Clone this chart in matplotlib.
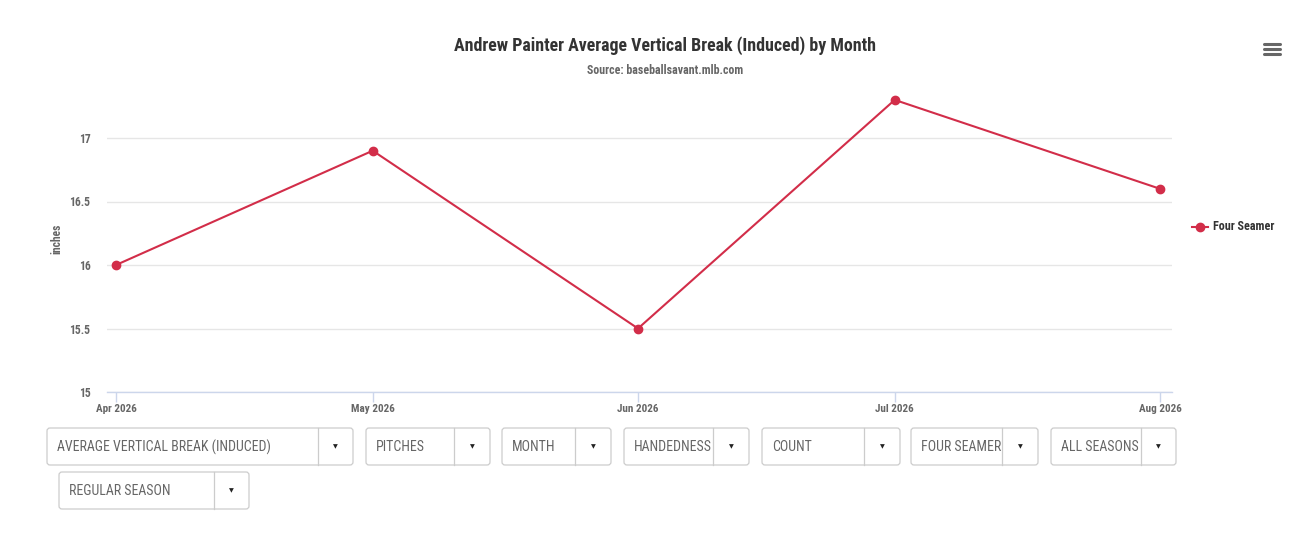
import matplotlib
matplotlib.use("Agg")
import matplotlib.pyplot as plt
from matplotlib.patches import FancyBboxPatch
from matplotlib.transforms import Bbox, TransformedBbox
import datetime as dt

months = ["2026-04-01", "2026-05-01", "2026-06-01", "2026-07-01", "2026-08-01"]
month_labels = ["Apr 2026", "May 2026", "Jun 2026", "Jul 2026", "Aug 2026"]
four_seamer = [16.0, 16.9, 15.5, 17.3, 16.6]
y_ticks = [15, 15.5, 16, 16.5, 17]
y_tick_labels = ["15", "15.5", "16", "16.5", "17"]
title = "Andrew Painter Average Vertical Break (Induced) by Month"
subtitle = "Source: baseballsavant.mlb.com"
series_name = "Four Seamer"
y_label = "inches"
dropdowns_row1 = ["AVERAGE VERTICAL BREAK (INDUCED)", "PITCHES", "MONTH", "HANDEDNESS",
                  "COUNT", "FOUR SEAMER", "ALL SEASONS"]
dropdowns_row2 = ["REGULAR SEASON"]

plt.rcParams["font.family"] = ["Roboto Condensed", "DejaVu Sans"]

W, H = 1315, 538
fig = plt.figure(figsize=(W / 100, H / 100), dpi=100)
fig.patch.set_facecolor("white")

dates = [dt.datetime.strptime(m, "%Y-%m-%d") for m in months]

# plot area in pixels
L, R, T, B = 107, 1172, 85, 392
ax = fig.add_axes([L / W, 1 - B / H, (R - L) / W, (B - T) / H])
color = "#d22d49"
ax.plot(dates, four_seamer, color=color, lw=1.5, marker="o", ms=6, zorder=3, clip_on=False)
ax.set_xlim(dates[0] - dt.timedelta(days=1.05), dates[-1] + dt.timedelta(days=1.4))
ax.set_ylim(15, 15 + (B - T) / 127.0)
ax.set_yticks(y_ticks)
ax.set_yticklabels(y_tick_labels)
ax.set_xticks(dates)
ax.set_xticklabels(month_labels)
for s in ["top", "right", "left"]:
    ax.spines[s].set_visible(False)
ax.spines["bottom"].set_color("#ccd6eb")
ax.spines["bottom"].set_linewidth(1)
ax.grid(axis="y", color="#e6e6e6", lw=1)
ax.set_axisbelow(True)
ax.tick_params(axis="y", length=0, pad=12, labelsize=8.4, labelcolor="#666666")
ax.tick_params(axis="x", length=7, width=1, color="#ccd6eb", pad=2, labelsize=8, labelcolor="#666666")
for lab in ax.get_xticklabels() + ax.get_yticklabels():
    lab.set_fontweight("bold")

# overlay in pixel coordinates
ov = fig.add_axes([0, 0, 1, 1], zorder=5)
ov.set_xlim(0, W)
ov.set_ylim(H, 0)
ov.axis("off")
ov.patch.set_alpha(0)

ov.text(665, 46, title, ha="center", va="center", fontsize=12.9, fontweight="bold", color="#333333")
ov.text(665, 70, subtitle, ha="center", va="center", fontsize=8.6, fontweight="bold", color="#666666")
ov.text(57, 239, y_label, ha="center", va="center", rotation=90, fontsize=8.3,
        fontweight="bold", color="#666666")

# legend
ov.plot([1192, 1208], [227, 227], color=color, lw=1.5)
ov.plot([1200], [227], marker="o", ms=6, color=color)
ov.text(1213, 227, series_name, ha="left", va="center", fontsize=8.7, fontweight="bold", color="#333333")

# hamburger icon
for yy in [44, 49, 54]:
    ov.plot([1264, 1280], [yy, yy], color="#666666", lw=2.2, solid_capstyle="round")

# dropdowns: (x0, x1, divider)
row1_geom = [(47, 353, 318), (366, 490, 454), (502, 611, 575), (624, 749, 713),
             (762, 900, 864), (911, 1038, 1002), (1051, 1176, 1141)]
row2_geom = [(59, 249, 214)]


def draw_dropdown(label, x0, x1, div, y0, y1):
    box = FancyBboxPatch((x0, y0), x1 - x0, y1 - y0, boxstyle="round,pad=0,rounding_size=3",
                         fc="white", ec="#cccccc", lw=0.9)
    ov.add_patch(box)
    ov.plot([div, div], [y0, y1], color="#cccccc", lw=0.9)
    t = ov.text(x0 + 10, (y0 + y1) / 2 + 0.5, label, ha="left", va="center", fontsize=10,
                color="#666666")
    t.set_clip_box(TransformedBbox(Bbox([[x0, y0], [div, y1]]), ov.transData))
    t.set_clip_on(True)
    ov.text((div + x1) / 2, (y0 + y1) / 2, "▼", ha="center", va="center", fontsize=4.5,
            color="#222222", family="DejaVu Sans")


for lab, (x0, x1, div) in zip(dropdowns_row1, row1_geom):
    draw_dropdown(lab, x0, x1, div, 428, 465)
for lab, (x0, x1, div) in zip(dropdowns_row2, row2_geom):
    draw_dropdown(lab, x0, x1, div, 472, 509)

fig.savefig("out.png", dpi=100, facecolor="white")
